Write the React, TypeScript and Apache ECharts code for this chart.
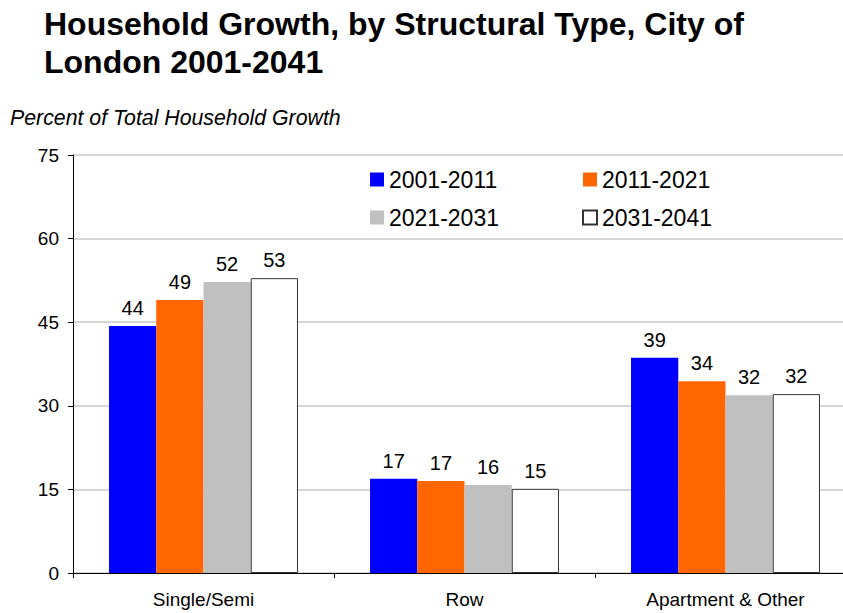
import React, { useEffect, useRef } from "react";
import * as echarts from "echarts";

const categories = ["Single/Semi", "Row", "Apartment & Other"];
const seriesNames = ["2001-2011", "2011-2021", "2021-2031", "2031-2041"];
const values2001_2011 = [44.3, 16.9, 38.6];
const values2011_2021 = [49.0, 16.5, 34.4];
const values2021_2031 = [52.2, 15.8, 31.9];
const values2031_2041 = [52.9, 15.1, 32.1];
const yTicks = [0, 15, 30, 45, 60, 75];

const FONT = "'Liberation Sans', Arial, sans-serif";

export default function App() {
  const ref = useRef<HTMLDivElement>(null);
  useEffect(() => {
    if (!ref.current) return;
    const chart = echarts.init(ref.current, null, { renderer: "svg" });
    const colors = ["#0000FF", "#FF6600", "#C0C0C0", "#FFFFFF"];
    const dataSets = [values2001_2011, values2011_2021, values2021_2031, values2031_2041];
    const series = seriesNames.map((name, i) => ({
      name,
      type: "bar",
      data: dataSets[i],
      barGap: "0%",
      barCategoryGap: "27.6%",
      itemStyle: {
        color: colors[i],
        borderColor: i === 3 ? "#333333" : colors[i],
        borderWidth: i === 3 ? 1 : 0,
      },
      label: {
        show: true,
        position: "top",
        distance: 8,
        color: "#000",
        fontSize: 20,
        fontFamily: FONT,
        formatter: (p: any) => String(Math.round(p.value)),
      },
    }));
    const legendCommon = {
      orient: "vertical",
      itemWidth: 14,
      itemHeight: 14,
      itemGap: 15,
      icon: "rect",
      textStyle: { fontSize: 23, fontFamily: FONT, color: "#000", lineHeight: 22 },
    };
    chart.setOption({
      animation: false,
      backgroundColor: "#fff",
      title: [
        {
          text: "Household Growth, by Structural Type, City of\nLondon 2001-2041",
          left: 39,
          top: 0,
          textStyle: { fontSize: 32, fontWeight: "bold", fontFamily: FONT, color: "#000", lineHeight: 38 },
        },
        {
          text: "Percent of Total Household Growth",
          left: 5,
          top: 102,
          textStyle: { fontSize: 21.3, fontStyle: "italic", fontWeight: "normal", fontFamily: FONT, color: "#000" },
        },
      ],
      legend: [
        { ...legendCommon, data: [seriesNames[0], seriesNames[2]], left: 365, top: 163 },
        { ...legendCommon, data: [seriesNames[1], seriesNames[3]], left: 577, top: 163 },
      ],
      grid: { left: 73, top: 155, width: 783, height: 418 },
      xAxis: {
        type: "category",
        data: categories,
        axisLine: { lineStyle: { color: "#000", width: 1 } },
        axisTick: { show: true, length: 5, lineStyle: { color: "#000" } },
        axisLabel: { color: "#000", fontSize: 19, fontFamily: FONT, margin: 17 },
      },
      yAxis: {
        type: "value",
        min: 0,
        max: 75,
        interval: 15,
        axisLine: { show: true, lineStyle: { color: "#000", width: 1 } },
        axisTick: { show: true, length: 5, lineStyle: { color: "#000" } },
        axisLabel: { color: "#000", fontSize: 19, fontFamily: FONT, margin: 14,
          formatter: (v: number) => (yTicks.includes(v) ? String(v) : "") },
        splitLine: { show: true, lineStyle: { color: "#C8C8C8", width: 1.5 } },
      },
      series,
    });
    return () => chart.dispose();
  }, []);
  return (
    <div style={{ width: 843, height: 613, position: "absolute", left: 0, top: 0, overflow: "hidden", background: "#fff" }}>
      <div ref={ref} style={{ width: 870, height: 613 }} />
    </div>
  );
}
